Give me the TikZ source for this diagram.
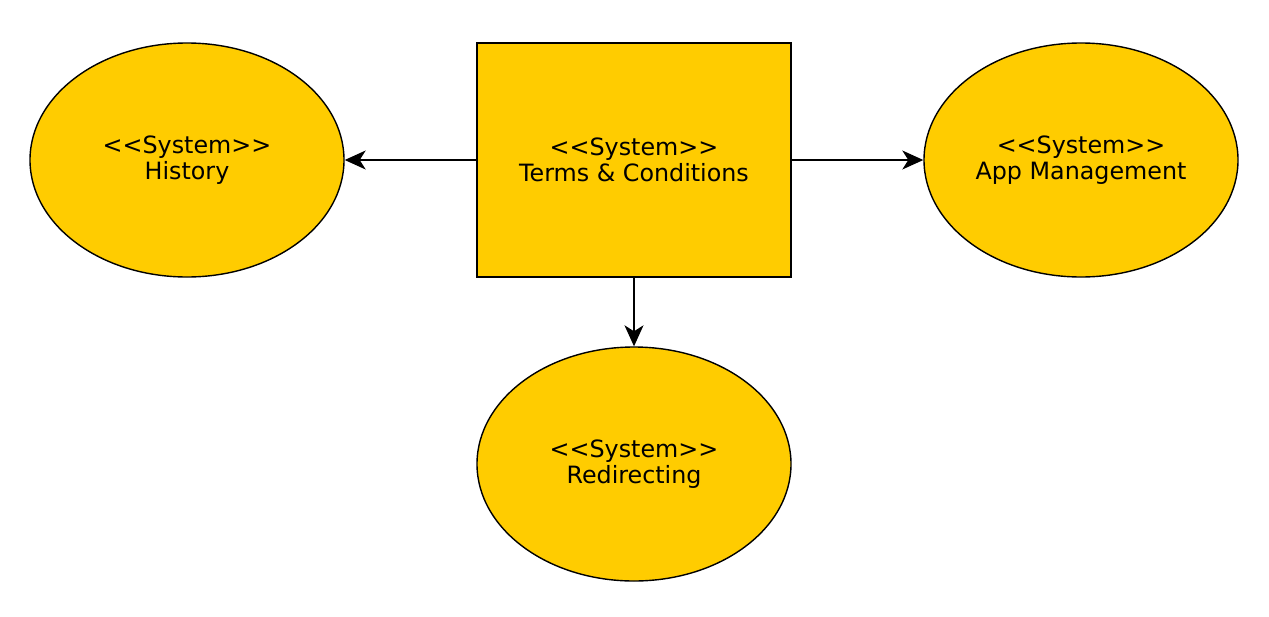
\documentclass[tikz,border=0pt]{standalone}
\usepackage{fontspec}
\setmainfont{DejaVu Sans}
\usetikzlibrary{shapes.geometric,arrows.meta}
\definecolor{sysfill}{RGB}{255,204,0}
\tikzset{
  base/.style={draw=black, fill=sysfill, line width=0.7pt, align=center, inner sep=0pt,
    font=\fontsize{11.9pt}{13pt}\selectfont},
  sysell/.style={base, ellipse, minimum width=157pt, minimum height=117pt},
  sysbox/.style={base, rectangle, minimum width=157pt, minimum height=117pt},
  conn/.style={line width=0.6pt, -{Stealth[length=10.5pt, width=9.5pt, inset=3pt]}}
}
\begin{document}
\begin{tikzpicture}[x=0.5pt, y=-0.5pt]
\useasboundingbox (0,0) rectangle (1269,616);
\node[sysbox] (terms) at (634,160) {<{}<System>{}>\\Terms \& Conditions};
\node[sysell] (hist) at (187,160) {<{}<System>{}>\\History};
\node[sysell] (app) at (1081,160) {<{}<System>{}>\\App Management};
\node[sysell] (redir) at (634,464) {<{}<System>{}>\\Redirecting};
\draw[conn] (terms) -- (hist);
\draw[conn] (terms) -- (app);
\draw[conn] (terms) -- (redir);
\end{tikzpicture}
\end{document}
